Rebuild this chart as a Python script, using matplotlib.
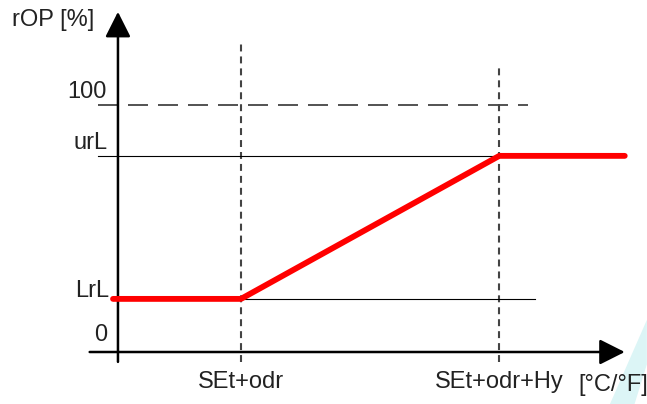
import matplotlib.pyplot as plt
from matplotlib.patches import Polygon

plt.rcParams['font.family'] = ['Liberation Sans', 'DejaVu Sans']
plt.rcParams['lines.scale_dashes'] = False

# output curve rOP vs temperature (x in arbitrary units, y in %)
curve_x = [-0.04, 1.0, 3.1, 4.12]
curve_y = [21.5, 21.5, 79.4, 79.4]

LrL = 21.5
urL = 79.4
top = 100
x_odr = 1.0
x_hy = 3.1

x_labels = ["SEt+odr", "SEt+odr+Hy"]
x_ticks = [x_odr, x_hy]

fig = plt.figure(figsize=(6.47, 4.04), dpi=100)
ax = fig.add_axes([0, 0, 1, 1])
ax.set_xlim(-0.959, 4.301)
ax.set_ylim(-21.05, 142.5)
ax.axis('off')

# faint watermark
ax.add_patch(Polygon([(4.0, -21.05), (4.2, -21.05), (4.30, -5), (4.30, 13)],
                     closed=True, color='#dcf5f6', lw=0, zorder=0))

# reference lines
ax.plot([-0.163, 3.33], [top, top], color='#444444', lw=1.3, dashes=(14.4, 7.2))
ax.plot([x_odr, x_odr], [-4, 126.3], color='#444444', lw=1.5, dashes=(5, 3.6))
ax.plot([x_hy, x_hy], [-4, 116.6], color='#444444', lw=1.5, dashes=(5, 3.6))
ax.plot([-0.163, x_hy], [urL, urL], color='black', lw=0.8)
ax.plot([-0.06, 3.39], [LrL, LrL], color='black', lw=0.8)

# axes with arrows
arrow = dict(arrowstyle='-|>,head_length=1.55,head_width=0.78',
             color='black', lw=1.8, shrinkA=0, shrinkB=0)
ax.annotate('', xy=(0, 137.7), xytext=(0, -4), arrowprops=arrow)
ax.annotate('', xy=(4.12, 0), xytext=(-0.23, 0), arrowprops=arrow)

ax.plot(curve_x, curve_y, color='#ff0000', lw=4.2, solid_capstyle='round',
        solid_joinstyle='round', zorder=5)

fs = 17
tc = '#222222'
ax.text(-0.862, 134.4, "rOP [%]", fontsize=fs, color=tc, ha='left', va='center')
ax.text(-0.09, 105.3, "100", fontsize=fs, color=tc, ha='right', va='center')
ax.text(-0.08, 84.6, "urL", fontsize=fs, color=tc, ha='right', va='center')
ax.text(-0.07, 24.7, "LrL", fontsize=fs, color=tc, ha='right', va='center')
ax.text(-0.09, 6.9, "0", fontsize=fs, color=tc, ha='right', va='center')
for xt, lab in zip(x_ticks, x_labels):
    ax.text(xt, -12.1, lab, fontsize=fs, color=tc, ha='center', va='center')
ax.text(3.74, -13.4, "[°C/°F]", fontsize=fs, color=tc, ha='left', va='center')

fig.savefig('out.png', dpi=100)
